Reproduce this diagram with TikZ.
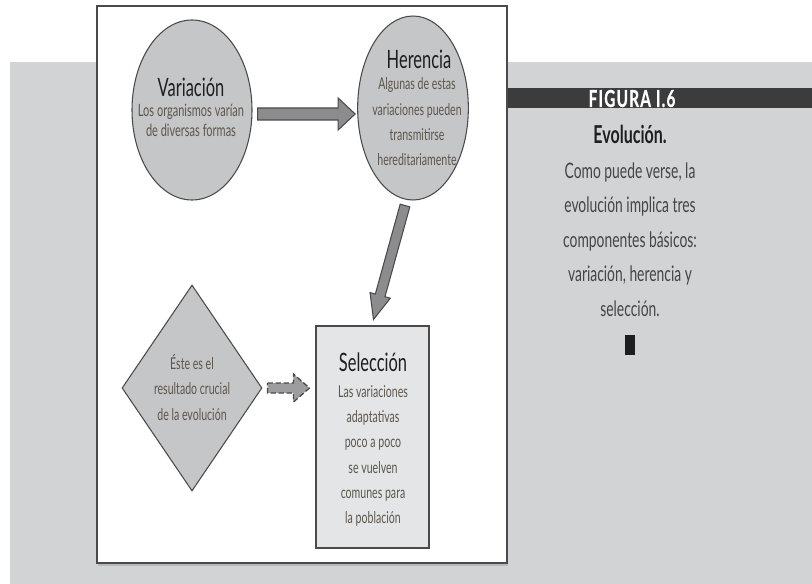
\documentclass[tikz,border=0pt]{standalone}
\usepackage{fontspec}
\setmainfont[FakeStretch=0.65]{Lato}
\newfontfamily\bandfont[FakeStretch=0.66, FakeBold=0.6, LetterSpace=5]{Lato}
\usetikzlibrary{shapes.geometric,calc}

\definecolor{pagegray}{HTML}{D2D3D5}
\definecolor{bandgray}{HTML}{3C3C3C}
\definecolor{shapegray}{HTML}{C5C6C8}
\definecolor{boxgray}{HTML}{E4E5E7}
\definecolor{arrowgray}{HTML}{8C8C8E}
\definecolor{edgegray}{HTML}{4A4A4A}
\definecolor{titleink}{HTML}{1E1E1E}
\definecolor{bodyink}{HTML}{5C564C}
\definecolor{captionink}{HTML}{454545}

\tikzset{
  stage/.style={draw=edgegray, line width=0.8pt, fill=shapegray, inner sep=0pt},
  stagetitle/.style={text=titleink, font=\fontsize{19}{21}\selectfont},
  stagetext/.style={text=bodyink, align=center, font=\fontsize{12.2}{#1}\selectfont},
  stagetext/.default=19,
  blockarr/.style={draw=edgegray, line width=0.8pt, fill=arrowgray, line join=miter},
}

% [style]{from}{to}{shaft half}{head length}{head half}
\newcommand{\blockarrow}[6][]{%
  \coordinate (headbase) at ($(#3)!#5!(#2)$);
  \draw[blockarr,#1] ($(#2)!#4!90:(#3)$) -- ($(headbase)!#4!90:(#3)$)
    -- ($(headbase)!#6!90:(#3)$) -- (#3) -- ($(headbase)!#6!-90:(#3)$)
    -- ($(headbase)!#4!-90:(#3)$) -- ($(#2)!#4!-90:(#3)$) -- cycle;
}

\begin{document}
\begin{tikzpicture}[x=0.75pt, y=-0.75pt]
    % Page
    \useasboundingbox (0,0) rectangle (812,584);
    \fill[white] (0,0) rectangle (812,584);
    \fill[pagegray] (10,62) rectangle (812,584);
    \fill[bandgray] (507,88) rectangle (812,108);

    % Frame
    \fill[black!28] (98,563) rectangle (508,566);
    \draw[fill=white, draw=edgegray, line width=1pt] (97,6) rectangle (507,563);

    % Variacion
    \node[stage, ellipse, minimum width=90pt, minimum height=135pt] (var) at (192,110) {};
    \node[stagetitle] (var-t) at (191,87) {Variación};
    \node[stagetext=15, font=\fontsize{12.7}{15}\selectfont] (var-b) at (191,120) {Los organismos varían\\de diversas formas};

    % Herencia
    \node[stage, ellipse, minimum width=83pt, minimum height=138pt] (her) at (413,108) {};
    \node[stagetitle] (her-t) at (419,59) {Herencia};
    \node[stagetext] (her-b) at (417,122) {Algunas de estas\\variaciones pueden\\transmitirse\\hereditariamente};

    % Seleccion
    \node[stage, fill=boxgray, rectangle, minimum width=84.75pt, minimum height=166.5pt] (sel) at (372.5,437) {};
    \node[stagetitle] (sel-t) at (373,362) {Selección};
    \node[stagetext] (sel-b) at (373,456) {Las variaciones\\adaptativas\\poco a poco\\se vuelven\\comunes para\\la población};

    % Resultado
    \node[stage, diamond, minimum width=105pt, minimum height=154.5pt] (cru) at (192,388) {};
    \node[stagetext] (cru-b) at (192,387.5) {Éste es el\\resultado crucial\\de la evolución};

    % Arrows
    \coordinate (var-out) at ($(var.east)+(5,4)$);
    \coordinate (her-in) at ($(her.west)+(-2,6)$);
    \coordinate (her-out) at ($(her.south)+(-8,5)$);
    \coordinate (sel-in) at ($(sel.north)+(1,-6)$);
    \coordinate (cru-out) at ($(cru.east)+(5,0)$);
    \coordinate (sel-left) at ($(sel.west |- cru.east)+(-6,0)$);
    \blockarrow{var-out}{her-in}{4.5pt}{12.75pt}{12pt}
    \blockarrow{her-out}{sel-in}{3.75pt}{18.75pt}{7.9pt}
    \blockarrow[dashed, dash pattern=on 4pt off 2pt, line width=1pt, fill=arrowgray!85]{cru-out}{sel-left}{3.75pt}{12pt}{10.5pt}

    % Caption
    \node[text=white, font=\bandfont\bfseries\fontsize{17.5}{18}\selectfont] (fig-num) at (632,98.5) {FIGURA I.6};
    \node[text=titleink, font=\bfseries\fontsize{18.5}{19}\selectfont] (fig-title) at (630,134) {Evolución.};
    \node[text=captionink, align=center, font=\fontsize{16}{25.9}\selectfont] (fig-text) at (630,239.5) {Como puede verse, la\\evolución implica tres\\componentes básicos:\\variación, herencia y\\selección.};
    \node[fill=titleink, inner sep=0pt, minimum width=7.5pt, minimum height=15pt] (fig-end) at (630,345) {};
\end{tikzpicture}
\end{document}
